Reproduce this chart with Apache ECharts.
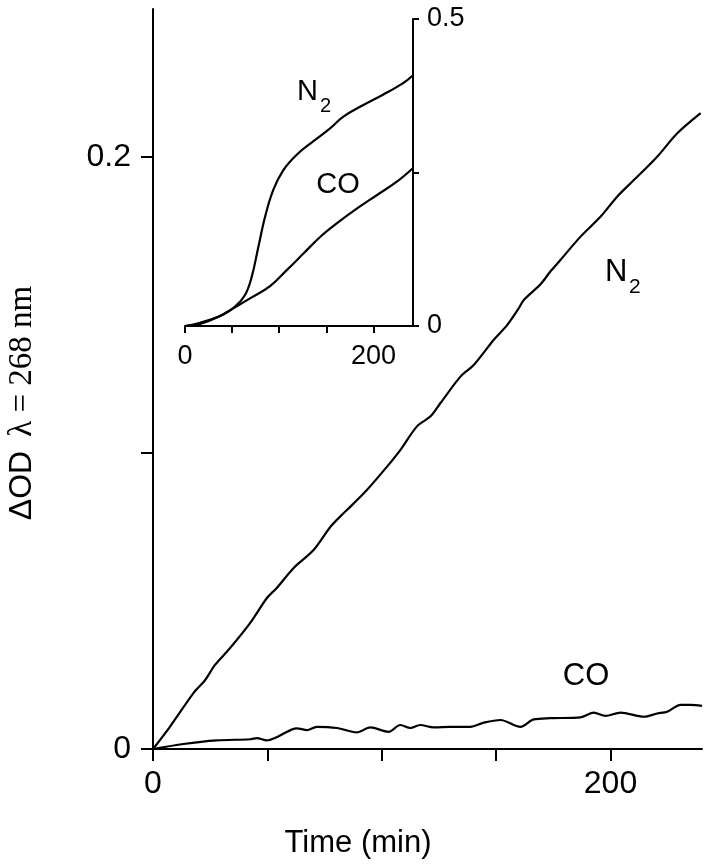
<!DOCTYPE html>
<html>
<head>
<meta charset="utf-8">
<script src="https://cdn.jsdelivr.net/npm/echarts@6/dist/echarts.min.js"></script>
<style>
  html, body { margin: 0; padding: 0; background: #fff; }
  #chart { width: 710px; height: 865px; }
</style>
</head>
<body>
<div id="chart"></div>
<script>
// main panel, Time (min) vs dOD
var mainTimeN2 = [0, 7.4, 17.6, 22.8, 27.1, 33.7, 42.5, 49.8, 54.1, 61.4, 70.2, 77.5, 81.8, 86.2, 93.5, 102.3, 108.1, 115.4, 121.2, 125.6, 134.4, 140.2, 148.9, 154.8, 159.9, 162.1, 169.4, 173.7, 178.1, 186.9, 195.6, 202.9, 211.7, 220.4, 229.2, 239.4];
var mainOdN2 = [0, 0.0075, 0.0188, 0.0233, 0.0284, 0.0341, 0.0426, 0.051, 0.0544, 0.0611, 0.0672, 0.075, 0.0785, 0.0818, 0.0875, 0.0954, 0.101, 0.109, 0.1123, 0.1168, 0.1258, 0.1297, 0.1382, 0.1432, 0.1489, 0.1517, 0.157, 0.1613, 0.1652, 0.1731, 0.1798, 0.1866, 0.1933, 0.2001, 0.208, 0.2148];

var mainTimeCO = [0, 13.3, 27.9, 42.5, 45.4, 49.8, 54.1, 62.9, 67.3, 71.6, 80.4, 89.1, 95.0, 103.0, 108.1, 112.5, 116.8, 122.7, 130.0, 138.7, 144.6, 151.9, 160.6, 166.4, 173.7, 186.9, 192.7, 197.8, 204.4, 214.6, 220.4, 224.8, 230.6, 235.0, 240.0];
var mainOdCO = [0, 0.0017, 0.0029, 0.0033, 0.0037, 0.0029, 0.004, 0.007, 0.0064, 0.0075, 0.0071, 0.0056, 0.0073, 0.0058, 0.0081, 0.0071, 0.0081, 0.0073, 0.0075, 0.0075, 0.0089, 0.0098, 0.0075, 0.01, 0.0104, 0.0107, 0.0123, 0.0112, 0.0123, 0.0109, 0.012, 0.0126, 0.0149, 0.0149, 0.0146];

// inset panel
var insetTimeN2 = [0, 15.9, 37.2, 53.1, 63.7, 70.8, 77.9, 85.0, 93.8, 104.4, 118.6, 136.3, 154.0, 168.1, 189.4, 210.6, 231.9, 241.8];
var insetOdN2 = [0, 0.0033, 0.0163, 0.0315, 0.0505, 0.08, 0.129, 0.178, 0.222, 0.254, 0.279, 0.301, 0.322, 0.341, 0.36, 0.377, 0.396, 0.408];

var insetTimeCO = [0, 15.9, 37.2, 53.1, 69, 90.3, 108, 125.7, 143.4, 161, 182.3, 203.5, 224.8, 241.8];
var insetOdCO = [0, 0.0054, 0.0163, 0.0304, 0.045, 0.065, 0.091, 0.118, 0.145, 0.167, 0.191, 0.213, 0.235, 0.257];

// ticks / labels
var mainXTicks = [0, 50, 100, 150, 200];
var mainXLabels = [0, 200];
var mainYTicks = [0, 0.1, 0.2];
var mainYLabels = [0, 0.2];
var insetXTicks = [0, 50, 100, 150, 200];
var insetXLabels = [0, 200];
var insetYTicks = [0, 0.25, 0.5];
var insetYLabels = [0, 0.5];

function zip(xs, ys) {
  return xs.map(function (x, i) { return [x, ys[i]]; });
}

var SANS = 'Liberation Sans, Arial, sans-serif';
var SERIF = 'Liberation Serif, Times New Roman, serif';
var axisLine = { show: true, onZero: false, lineStyle: { color: '#000', width: 2 } };

var chart = echarts.init(document.getElementById('chart'));
var lineStyle = { color: '#000', width: 2.2 };

chart.setOption({
  animation: false,
  backgroundColor: '#fff',
  grid: [
    { left: 153, top: 9, width: 549, height: 740 },
    { left: 185, top: 19, width: 228, height: 307 }
  ],
  xAxis: [
    {
      gridIndex: 0, type: 'value', min: 0, max: 240,
      axisLine: axisLine,
      axisTick: { show: true, customValues: mainXTicks, length: 12, lineStyle: { color: '#000', width: 2 } },
      axisLabel: { customValues: mainXLabels, margin: 19, color: '#000', fontSize: 32, fontFamily: SANS },
      splitLine: { show: false }
    },
    {
      gridIndex: 1, type: 'value', min: 0, max: 242,
      axisLine: axisLine,
      axisTick: { show: true, customValues: insetXTicks, length: 7, lineStyle: { color: '#000', width: 2 } },
      axisLabel: { customValues: insetXLabels, margin: 17, color: '#000', fontSize: 27, fontFamily: SANS },
      splitLine: { show: false }
    }
  ],
  yAxis: [
    {
      gridIndex: 0, type: 'value', min: 0, max: 0.25,
      axisLine: axisLine,
      axisTick: { show: true, customValues: mainYTicks, length: 12, lineStyle: { color: '#000', width: 2 } },
      axisLabel: { customValues: mainYLabels, margin: 22, color: '#000', fontSize: 32, fontFamily: SANS },
      splitLine: { show: false }
    },
    {
      gridIndex: 1, type: 'value', min: 0, max: 0.5, position: 'right',
      axisLine: axisLine,
      axisTick: { show: true, customValues: insetYTicks, length: 6, lineStyle: { color: '#000', width: 2 } },
      axisLabel: { customValues: insetYLabels, margin: 14, color: '#000', fontSize: 27, fontFamily: SANS },
      splitLine: { show: false }
    }
  ],
  series: [
    { type: 'line', xAxisIndex: 0, yAxisIndex: 0, data: zip(mainTimeN2, mainOdN2), showSymbol: false, smooth: 0.3, lineStyle: lineStyle },
    { type: 'line', xAxisIndex: 0, yAxisIndex: 0, data: zip(mainTimeCO, mainOdCO), showSymbol: false, smooth: 0.3, lineStyle: lineStyle },
    { type: 'line', xAxisIndex: 1, yAxisIndex: 1, data: zip(insetTimeN2, insetOdN2), showSymbol: false, smooth: 0.4, lineStyle: lineStyle },
    { type: 'line', xAxisIndex: 1, yAxisIndex: 1, data: zip(insetTimeCO, insetOdCO), showSymbol: false, smooth: 0.4, lineStyle: lineStyle }
  ],
  graphic: [
    { type: 'text', x: 358, y: 843, style: { text: 'Time (min)', font: '31px ' + SANS, fill: '#000', align: 'center', verticalAlign: 'middle' } },
    {
      type: 'text', x: 22, y: 403, rotation: Math.PI / 2,
      style: {
        text: '{a|\u0394OD}{b|\u03bb = 268 nm}', align: 'center', verticalAlign: 'middle', fill: '#000',
        rich: {
          a: { fontFamily: SANS, fontSize: 32, fill: '#000' },
          b: { fontFamily: SERIF, fontSize: 33, fill: '#000', padding: [0, 0, 0, 14] }
        }
      }
    },
    // main labels
    { type: 'text', x: 605, y: 272, style: { text: 'N', font: '31px ' + SANS, fill: '#000', verticalAlign: 'middle' } },
    { type: 'text', x: 629, y: 287, style: { text: '2', font: '21px ' + SANS, fill: '#000', verticalAlign: 'middle' } },
    { type: 'text', x: 586, y: 676, style: { text: 'CO', font: '31px ' + SANS, fill: '#000', align: 'center', verticalAlign: 'middle' } },
    // inset labels
    { type: 'text', x: 297, y: 92, style: { text: 'N', font: '29px ' + SANS, fill: '#000', verticalAlign: 'middle' } },
    { type: 'text', x: 320, y: 106, style: { text: '2', font: '20px ' + SANS, fill: '#000', verticalAlign: 'middle' } },
    { type: 'text', x: 338, y: 185, style: { text: 'CO', font: '29px ' + SANS, fill: '#000', align: 'center', verticalAlign: 'middle' } }
  ]
});
</script>
</body>
</html>
